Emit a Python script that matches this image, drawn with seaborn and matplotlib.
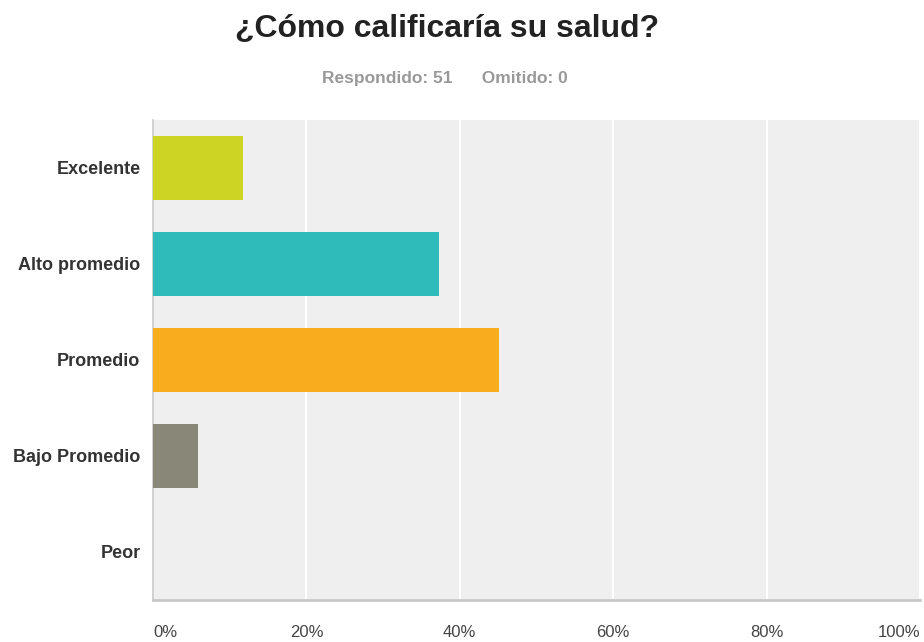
import matplotlib.pyplot as plt
import numpy as np
import pandas as pd
import seaborn as sns

# survey answers (percent of 51 respondents)
categories = ['Excelente', 'Alto promedio', 'Promedio', 'Bajo Promedio', 'Peor']
percent = [11.76, 37.25, 45.10, 5.88, 0.0]
colors = ['#CDD424', '#30BBBB', '#F8AD1F', '#898878', '#777777']
x_ticks = [0, 20, 40, 60, 80, 100]
x_ticklabels = ['0%', '20%', '40%', '60%', '80%', '100%']

data = pd.DataFrame({'respuesta': categories, 'porcentaje': percent})

sns.set_style('white')
plt.rcParams['font.family'] = ['Liberation Sans', 'DejaVu Sans']

fig = plt.figure(figsize=(9.24, 6.42), dpi=100)
ax = fig.add_axes([153 / 924, 42 / 642, 767 / 924, 480 / 642])
ax.set_facecolor('#EFEFEF')

sns.barplot(data=data, x='porcentaje', y='respuesta', hue='respuesta',
            order=categories, palette=colors, legend=False, width=0.667,
            saturation=1, linewidth=0, ax=ax, zorder=3)

ax.set_xlim(0, 100)
ax.set_ylim(4.5, -0.5)
ax.set_xticks(x_ticks)
ax.set_xticklabels(x_ticklabels, fontsize=12, color='#444444')
ax.get_xticklabels()[0].set_ha('left')
ax.get_xticklabels()[-1].set_ha('right')
ax.xaxis.grid(True, color='white', linewidth=1.5, zorder=1)
ax.set_axisbelow(True)
ax.tick_params(axis='x', length=0, pad=18)
ax.tick_params(axis='y', length=0, pad=9)
for lbl in ax.get_yticklabels():
    lbl.set_fontweight('bold')
    lbl.set_fontsize(13)
    lbl.set_color('#333333')
ax.set_xlabel('')
ax.set_ylabel('')

for side in ['top', 'right']:
    ax.spines[side].set_visible(False)
ax.spines['left'].set_color('#C8C8C8')
ax.spines['left'].set_linewidth(1.2)
ax.spines['bottom'].set_color('#C8C8C8')
ax.spines['bottom'].set_linewidth(2)

fig.text(447 / 924, 1 - 29 / 642, '¿Cómo calificaría su salud?', ha='center', va='center',
         fontsize=23, fontweight='bold', color='#222222')
fig.text(445 / 924, 1 - 78 / 642, 'Respondido: 51      Omitido: 0', ha='center', va='center',
         fontsize=12.5, fontweight='bold', color='#999999')

fig.savefig('out.png', dpi=100)
